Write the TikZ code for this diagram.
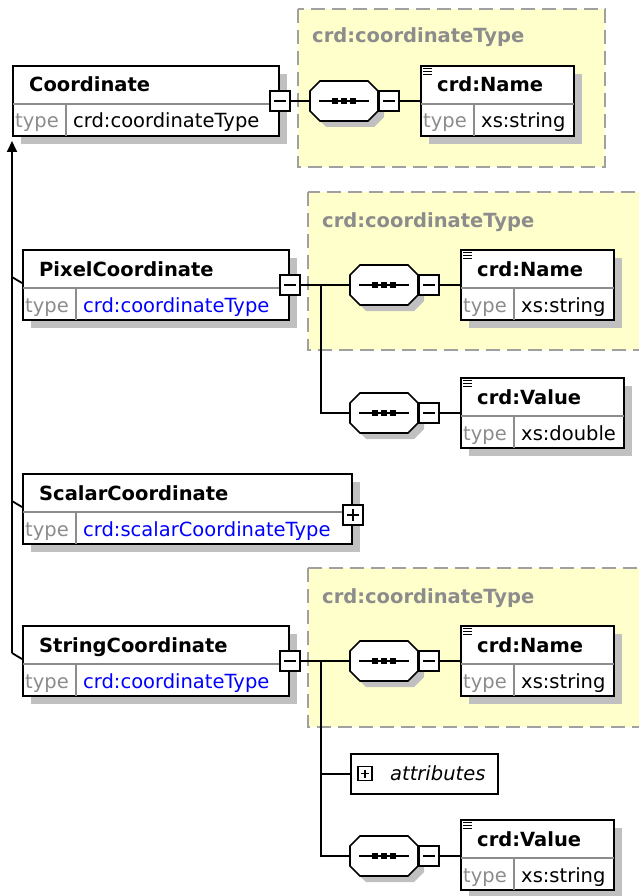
\documentclass[tikz,border=0pt]{standalone}
\usepackage{fontspec}
\setmainfont{DejaVu Sans}
\usetikzlibrary{arrows.meta}
\usetikzlibrary{shadows}
\usetikzlibrary{positioning}

\newcommand{\diagfont}{\fontsize{19.5pt}{23pt}\selectfont}

\definecolor{groupyellow}{HTML}{FFFFCC}
\definecolor{groupgray}{HTML}{A0A0A0}
\definecolor{shadowgray}{HTML}{C0C0C0}
\definecolor{typegray}{HTML}{8C8C8C}
\definecolor{typeblue}{HTML}{0000FF}

\tikzset{
  elem/.style={draw, line width=2pt, fill=white, anchor=north west, minimum height=70pt, inner sep=0pt,
    drop shadow={shadow xshift=8pt, shadow yshift=-8pt, fill=shadowgray, opacity=1}},
  rowline/.style={draw=typegray, line width=1.3pt, shorten <=1pt, shorten >=1pt},
  ttl/.style={anchor=base west, inner sep=0pt, font=\diagfont\bfseries},
  typelbl/.style={anchor=base west, inner sep=0pt, text=typegray, font=\diagfont},
  typeval/.style={anchor=base west, inner sep=0pt, font=\diagfont},
  grp/.style={draw=groupgray, fill=groupyellow, line width=1.6pt, dash pattern=on 14pt off 7pt},
  grplbl/.style={anchor=base west, inner sep=0pt, text=typegray, font=\diagfont\bfseries},
  seqline/.style={draw=black, fill=white, line width=1.6pt},
  seqanchor/.style={inner sep=0pt, minimum width=68pt, minimum height=40pt},
  conn/.style={line width=1.8pt},
  minusbox/.style={draw, fill=white, line width=1.7pt, minimum size=20pt, inner sep=0pt,
    path picture={\draw[line width=1.6pt] ([xshift=4pt]path picture bounding box.west) -- ([xshift=-4pt]path picture bounding box.east);}},
  plusbox/.style={draw, fill=white, line width=1.7pt, minimum size=20pt, inner sep=0pt,
    path picture={\draw[line width=1.6pt] ([xshift=4pt]path picture bounding box.west) -- ([xshift=-4pt]path picture bounding box.east);
                  \draw[line width=1.6pt] ([yshift=-4pt]path picture bounding box.north) -- ([yshift=4pt]path picture bounding box.south);}},
  attrbox/.style={draw, line width=1.7pt, fill=white, anchor=north west, minimum width=147pt, minimum height=40pt, inner sep=0pt}
}

\begin{document}
\begin{tikzpicture}[x=1pt, y=-1pt]
  \useasboundingbox (0,0) rectangle (638,896);

  % complex type groups
  \draw[grp] (298,9) rectangle (605,167);
  \draw[grp] (308,192) rectangle (660,350);
  \draw[grp] (308,568) rectangle (660,727);
  \node[grplbl] (grpA) at (312,43) {crd:coordinateType};
  \node[grplbl] (grpB) at (322,227) {crd:coordinateType};
  \node[grplbl] (grpC) at (322,603) {crd:coordinateType};

  % global elements
  \foreach \nm/\x/\y/\w/\ttl/\typ/\col in {coord/12/65/266/Coordinate/crd:coordinateType/black,
      pixel/22/249/266/PixelCoordinate/crd:coordinateType/typeblue,
      scalar/22/473/329/ScalarCoordinate/crd:scalarCoordinateType/typeblue,
      string/22/625/266/StringCoordinate/crd:coordinateType/typeblue}{
    \node[elem, minimum width=\w] (\nm) at (\x,\y) {};
    \draw[rowline] ([yshift=-39pt]\nm.north west) -- ([yshift=-39pt]\nm.north east);
    \draw[rowline] ([shift={(54pt,-39pt)}]\nm.north west) -- ([xshift=54pt]\nm.south west);
    \node[ttl] (\nm-n) at ([shift={(17pt,-27pt)}]\nm.north west) {\ttl};
    \node[typelbl] (\nm-t) at ([shift={(3pt,-63pt)}]\nm.north west) {type};
    \node[typeval, text=\col] (\nm-v) at ([shift={(61pt,-63pt)}]\nm.north west) {\typ};
  }
  \node[minusbox] (coord-m) at ([yshift=-36pt]coord.north east) {};
  \node[minusbox] (pixel-m) at ([yshift=-36pt]pixel.north east) {};
  \node[plusbox] (scalar-p) at ([yshift=-42pt]scalar.north east) {};
  \node[minusbox] (string-m) at ([yshift=-36pt]string.north east) {};

  % local elements
  \foreach \nm/\x/\y/\w/\ttl/\typ in {nameA/420/65/153/crd:Name/xs:string,
      nameB/460/249/153/crd:Name/xs:string,
      valueB/460/377/163/crd:Value/xs:double,
      nameC/460/625/153/crd:Name/xs:string,
      valueC/460/819/153/crd:Value/xs:string}{
    \node[elem, minimum width=\w] (\nm) at (\x,\y) {};
    \draw[rowline] ([yshift=-39pt]\nm.north west) -- ([yshift=-39pt]\nm.north east);
    \draw[rowline] ([shift={(54pt,-39pt)}]\nm.north west) -- ([xshift=54pt]\nm.south west);
    \foreach \dy in {3.5,6.5,9.5}
      \draw[line width=1.1pt] ([shift={(3pt,-\dy pt)}]\nm.north west) -- ++(9,0);
    \node[ttl] (\nm-n) at ([shift={(17pt,-27pt)}]\nm.north west) {\ttl};
    \node[typelbl] (\nm-t) at ([shift={(3pt,-63pt)}]\nm.north west) {type};
    \node[typeval] (\nm-v) at ([shift={(61pt,-63pt)}]\nm.north west) {\typ};
  }

  % sequences
  \foreach \nm/\x/\y in {seqA/344/101, seqB/384/285, seqC/384/413, seqD/384/661, seqE/384/856}{
    \begin{scope}[shift={(\x,\y)}]
      \fill[shadowgray] (-18,-14) -- (30,-14) -- (40,-4) -- (40,16) -- (30,26) -- (-18,26) -- (-28,16) -- (-28,-4) -- cycle;
      \draw[seqline] (-24,-20) -- (24,-20) -- (34,-10) -- (34,10) -- (24,20) -- (-24,20) -- (-34,10) -- (-34,-10) -- cycle;
      \draw[line width=1.5pt] (-25,0) -- (25,0);
      \foreach \dx in {-9,0,9}
        \fill (\dx-3,-3) rectangle (\dx+3,3);
    \end{scope}
    \node[seqanchor] (\nm) at (\x,\y) {};
    \node[minusbox, anchor=west] (\nm-m) at (\nm.east) {};
  }

  % attribute group
  \node[attrbox] (attr) at (350,753) {};
  \node[plusbox, minimum size=14pt, line width=1.3pt, path picture={\draw[line width=1.3pt] ([xshift=3pt]path picture bounding box.west) -- ([xshift=-3pt]path picture bounding box.east);
      \draw[line width=1.3pt] ([yshift=-3pt]path picture bounding box.north) -- ([yshift=3pt]path picture bounding box.south);}] (attr-p) at (365,773.5) {};
  \node[anchor=west, inner sep=0pt, font=\diagfont\itshape] (attr-t) at (390,773) {attributes};

  % connectors
  \draw[conn] (coord-m.east) -- (seqA.west);
  \draw[conn] (seqA-m.east) -- (seqA-m.east -| nameA.west);
  \draw[conn] (pixel-m.east) -- (seqB.west);
  \coordinate (forkB) at (321,285);
  \draw[conn] (forkB) |- (seqC.west);
  \draw[conn] (seqB-m.east) -- (seqB-m.east -| nameB.west);
  \draw[conn] (seqC-m.east) -- (seqC-m.east -| valueB.west);
  \draw[conn] (string-m.east) -- (seqD.west);
  \coordinate (forkD) at (321,661);
  \draw[conn] (forkD) |- (seqE.west);
  \draw[conn] (forkD |- attr.west) -- (attr.west);
  \draw[conn] (seqD-m.east) -- (seqD-m.east -| nameC.west);
  \draw[conn] (seqE-m.east) -- (seqE-m.east -| valueC.west);

  % substitution group
  \coordinate (inhbase) at ([shift={(-10pt,-28pt)}]string.north west);
  \draw[conn, -{Triangle[width=10pt,length=11pt]}, shorten >=4pt] (inhbase) -- (inhbase |- coord.south west);
  \foreach \nm in {pixel, scalar, string}
    \draw[conn] ([shift={(-10pt,-28pt)}]\nm.north west) -- ([yshift=-34pt]\nm.north west);
\end{tikzpicture}
\end{document}
